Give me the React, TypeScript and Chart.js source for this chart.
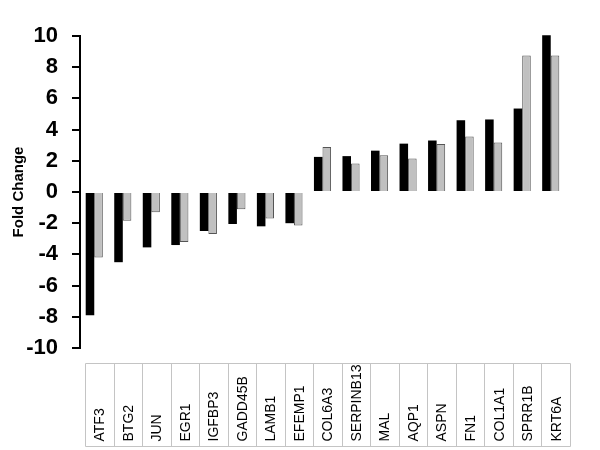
import React, { useEffect, useRef } from "react";
import { Chart, registerables } from "chart.js";

Chart.register(...registerables);

const categories = [
  "ATF3", "BTG2", "JUN", "EGR1", "IGFBP3", "GADD45B", "LAMB1", "EFEMP1",
  "COL6A3", "SERPINB13", "MAL", "AQP1", "ASPN", "FN1", "COL1A1", "SPRR1B", "KRT6A",
];
const seriesBlack = [
  -7.9, -4.5, -3.55, -3.4, -2.5, -2.05, -2.2, -2.0,
  2.25, 2.3, 2.65, 3.1, 3.3, 4.6, 4.65, 5.35, 10.05,
];
const seriesGray = [
  -4.2, -1.85, -1.3, -3.2, -2.7, -1.1, -1.7, -2.15,
  2.88, 1.83, 2.35, 2.15, 3.07, 3.56, 3.18, 8.75, 8.75,
];
const yMin = -10;
const yMax = 10;
const yStep = 2;

const FONT = "Arial, 'Liberation Sans', sans-serif";

export default function App() {
  const ref = useRef<HTMLCanvasElement>(null);

  useEffect(() => {
    if (!ref.current) return;

    const tablePlugin = {
      id: "labelTable",
      afterDraw(chart: any) {
        const { ctx, chartArea } = chart;
        const xs = chart.scales.x;
        const step = xs.getPixelForValue(1) - xs.getPixelForValue(0);
        const shift = 5;
        const top = Math.round(chartArea.bottom + 15) + 0.5;
        const bottom = Math.round(chartArea.bottom + 98) + 0.5;
        const n = categories.length;
        const left = Math.round(xs.getPixelForValue(0) - step / 2 + shift) + 0.5;
        const right = Math.round(xs.getPixelForValue(n - 1) + step / 2 + shift) + 0.5;
        ctx.save();
        ctx.strokeStyle = "#c4c4c4";
        ctx.lineWidth = 1;
        ctx.beginPath();
        ctx.moveTo(left, top);
        ctx.lineTo(right, top);
        ctx.moveTo(left, bottom);
        ctx.lineTo(right, bottom);
        for (let i = 0; i <= n; i++) {
          const bx = Math.round(xs.getPixelForValue(i) - step / 2 + shift) + 0.5;
          ctx.moveTo(bx, top);
          ctx.lineTo(bx, bottom);
        }
        ctx.stroke();
        ctx.fillStyle = "#000";
        ctx.font = `14px ${FONT}`;
        ctx.textAlign = "left";
        ctx.textBaseline = "middle";
        categories.forEach((c, i) => {
          const cx = xs.getPixelForValue(i) + shift + 1;
          ctx.save();
          ctx.translate(cx, bottom - 5);
          ctx.rotate(-Math.PI / 2);
          ctx.fillText(c, 0, 0);
          ctx.restore();
        });
        ctx.restore();
      },
    };

    const chart = new Chart(ref.current, {
      type: "bar",
      data: {
        labels: categories,
        datasets: [
          {
            data: seriesBlack,
            backgroundColor: "#000000",
            borderWidth: 0,
            categoryPercentage: 0.6,
            barPercentage: 1.0,
            clip: false as any,
          },
          {
            data: seriesGray,
            backgroundColor: "#c0c0c0",
            borderColor: "#555555",
            borderWidth: 1,
            categoryPercentage: 0.6,
            barPercentage: 1.0,
            clip: false as any,
          },
        ],
      },
      options: {
        responsive: false,
        animation: false,
        layout: { padding: { top: 36, bottom: 102, left: 0, right: 35 } },
        plugins: {
          legend: { display: false },
          tooltip: { enabled: false },
        },
        scales: {
          x: {
            display: true,
            ticks: { display: false },
            grid: { display: false },
            border: { display: false },
            afterFit: (s: any) => {
              s.height = 0;
            },
          },
          y: {
            min: yMin,
            max: yMax,
            ticks: {
              stepSize: yStep,
              font: { family: FONT, size: 22, weight: "bold" },
              color: "#000",
              padding: 14,
            },
            grid: {
              drawOnChartArea: false,
              drawTicks: true,
              tickLength: 8,
              color: "#000",
              lineWidth: 2,
            },
            border: { display: true, color: "#000", width: 2 },
            title: {
              display: true,
              text: "Fold Change",
              color: "#000",
              font: { family: FONT, size: 15, weight: "bold" },
              padding: { top: 10, bottom: 0 },
            },
            afterFit: (s: any) => {
              s.width = 80;
            },
          },
        },
      },
      plugins: [tablePlugin],
    });

    return () => chart.destroy();
  }, []);

  return (
    <div style={{ position: "fixed", left: 0, top: 0, width: 600, height: 450, background: "#fff" }}>
      <canvas ref={ref} width={600} height={450} />
    </div>
  );
}
